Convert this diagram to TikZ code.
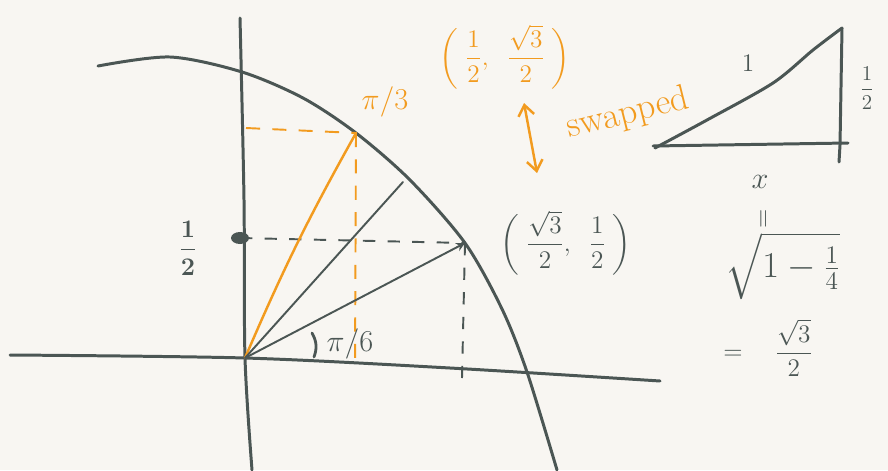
\documentclass[tikz,border=0pt]{standalone}
\usepackage{amsmath}
\usepackage[dvipsnames]{xcolor}
\usetikzlibrary{arrows.meta,positioning}

\definecolor{slate}{HTML}{4B5654}
\definecolor{marker}{HTML}{F29B1F}
\definecolor{paper}{HTML}{F8F6F2}

\begin{document}
\begin{tikzpicture}[x=0.02cm,y=-0.02cm,
  pen/.style={slate,line width=1.7pt,line cap=round},
  thinpen/.style={slate,line width=1.1pt,line cap=round},
  dashpen/.style={slate,line width=1.1pt,dash pattern=on 7pt off 7pt},
  orangepen/.style={marker,line width=1.4pt,line cap=round},
  orangedash/.style={marker,line width=1.1pt,dash pattern=on 8pt off 7pt},
  lbl/.style={slate,inner sep=0pt},
  olbl/.style={marker,inner sep=0pt}]

  % paper
  \fill[paper] (0,0) rectangle (888,470);
  \useasboundingbox (0,0) rectangle (888,470);

  % Points on the circle
  \coordinate (O) at (245,358);
  \coordinate (P3) at (356,133);
  \coordinate (P4) at (403,182);
  \coordinate (P6) at (465,243);
  \coordinate (halfdot) at (240,238);
  \coordinate (Y3) at (246,128);
  \coordinate (X3) at (355,368);
  \coordinate (X6) at (462,378);

  % Axes
  \draw[pen] plot[smooth] coordinates {(10,355) (245,358) (450,368) (660,381)};
  \draw[pen] plot[smooth] coordinates {(240,18) (244,200) (245,358) (252,470)};

  % Unit circle (by hand)
  \draw[pen] plot[smooth] coordinates {(98,66) (170,57) (242,72) (303,98) (356,133)
    (410,180) (465,243) (502,309) (527,372) (557,470)};

  % Projections
  \draw[orangedash] (Y3) -- (P3);
  \draw[orangedash] (P3) -- (X3);
  \draw[dashpen] (halfdot) -- (P6);
  \draw[dashpen] (P6) -- (X6);

  % Radii
  \draw[orangepen] (O) to[bend left=3] (P3);
  \draw[thinpen] (O) -- (P4);
  \draw[thinpen,-{Stealth[length=5pt,width=5pt]}] (O) -- (P6);

  % Dot at 1/2 on the y axis
  \fill[slate] (halfdot) ellipse (9 and 6);
  \node[lbl,font=\Large\boldmath] (half) at (188,248) {$\dfrac{1}{2}$};

  % Angles
  \draw[thinpen,line width=1.6pt] (312,333) to[bend left=25] (314,357);
  \node[lbl,font=\LARGE] (pisix) at (350,344) {$\pi/6$};
  \node[olbl,font=\LARGE] (pithird) at (385,102) {$\pi/3$};

  % Coordinates of the points
  \node[olbl,font=\Large] (ptop) at (505,57)
    {$\biggl(\;\dfrac{1}{2},\;\;\dfrac{\sqrt{3}}{2}\;\biggr)$};
  \node[lbl,font=\Large] (pright) at (566,243)
    {$\biggl(\;\dfrac{\sqrt{3}}{2},\;\;\dfrac{1}{2}\;\biggr)$};

  % swapped
  \coordinate (swaptop) at (524,103);
  \coordinate (swapbot) at (537,173);
  \draw[orangepen,{Straight Barb[length=6pt,width=9pt]}-{Straight Barb[length=6pt,width=9pt]}] (swaptop) -- (swapbot);
  \node[olbl,font=\huge,rotate=14] (swapped) at (628,114) {swapped};

  % Triangle
  \coordinate (TA) at (655,148);
  \coordinate (TB) at (842,28);
  \coordinate (TC) at (840,145);
  \draw[pen] plot[smooth] coordinates {(655,148) (707,120) (773,83) (813,50) (842,28)};
  \draw[pen] (TB) -- (TC) -- (839,162);
  \draw[pen] (653,146) -- (848,143);
  \node[lbl,font=\Large] (hyp) at (748,63) {$1$};
  \node[lbl,font=\large] (opp) at (867,88) {$\dfrac{1}{2}$};
  \node[lbl,font=\LARGE] (adj) at (760,182) {$x$};

  % Working
  \node[lbl,font=\Large,rotate=90] (eqa) at (765,219) {$=$};
  \node[lbl,font=\huge] (root) at (783,266) {$\sqrt{1-\tfrac{1}{4}}$};
  \node[lbl,font=\Large] (result) at (768,348) {$=\quad\dfrac{\sqrt{3}}{2}$};

\end{tikzpicture}
\end{document}
